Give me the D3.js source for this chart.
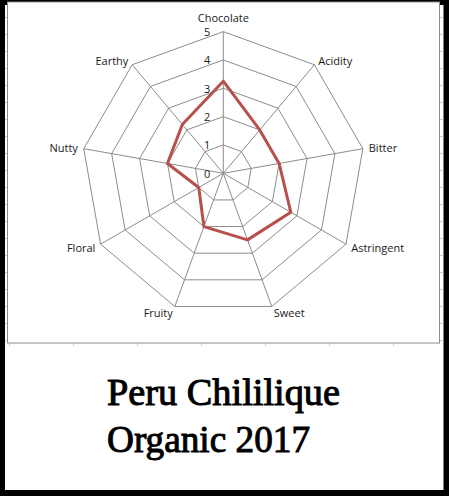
<!DOCTYPE html>
<html lang="en">
<head>
    <meta charset="UTF-8">
    <title>Peru Chililique Organic 2017</title>
    <script src="https://cdnjs.cloudflare.com/ajax/libs/d3/7.8.5/d3.min.js"></script>
    <style>
        html, body { margin: 0; padding: 0; background: #000; }
        svg { display: block; }
        .grid { fill: none; stroke: #8c8c8c; stroke-width: 1px; }
        .lbl { font-family: "Open Sans", "Liberation Sans", sans-serif; font-size: 11px; fill: #1a1a1a; }
        .title { font-family: "Liberation Serif", "DejaVu Serif", serif; font-size: 38px; font-weight: normal;
                 fill: #000; stroke: #000; stroke-width: 1px; }
    </style>
</head>
<body>
<svg id="chart" width="449" height="496"></svg>
<script>
    // flavour profile
    var categories = ["Chocolate", "Acidity", "Bitter", "Astringent", "Sweet", "Fruity", "Floral", "Nutty", "Earthy"];
    var scores = [3.25, 2, 2, 2.75, 2.5, 2, 1, 2, 2.25];
    var ticks = [0, 1, 2, 3, 4, 5];
    var titleLines = ["Peru  Chililique", "Organic 2017"];

    var svg = d3.select("#chart");

    // white sheet inside the black frame
    svg.append("rect").attr("x", 5).attr("y", 5).attr("width", 438.5).attr("height", 485).attr("fill", "#fff");

    // faint spreadsheet cell marks around the chart box
    var cells = svg.append("g").attr("stroke", "#c8c8c8").attr("stroke-width", 1);
    d3.range(0, 20).forEach(function (k) {
        var y = 340 - 17 * k + 0.5;
        cells.append("line").attr("x1", 5).attr("x2", 7).attr("y1", y).attr("y2", y);
        cells.append("line").attr("x1", 440).attr("x2", 443.5).attr("y1", y).attr("y2", y);
    });
    d3.range(0, 7).forEach(function (k) {
        var x = 9 + 64 * k + 0.5;
        cells.append("line").attr("x1", x).attr("x2", x).attr("y1", 343).attr("y2", 346);
    });

    // chart box
    svg.append("rect").attr("x", 7.5).attr("y", 2).attr("width", 432).attr("height", 341)
        .attr("fill", "#fff").attr("stroke", "#8c8c8c").attr("stroke-width", 1);

    var cx = 223.3, cy = 173.3, R = 141.7;
    var r = d3.scaleLinear().domain([0, 5]).range([0, R]);
    var angle = d3.scalePoint().domain(categories).range([0, 2 * Math.PI * (categories.length - 1) / categories.length]);

    var g = svg.append("g").attr("transform", "translate(" + cx + "," + cy + ")");

    // web rings
    var ring = d3.lineRadial().angle(function (d) { return angle(d); }).curve(d3.curveLinearClosed);
    g.selectAll(".ring")
        .data(ticks.slice(1))
        .enter().append("path")
        .attr("class", "grid")
        .attr("d", function (t) { return ring.radius(r(t))(categories); });

    // spokes
    g.selectAll(".spoke")
        .data(categories)
        .enter().append("line")
        .attr("class", "grid")
        .attr("x1", 0).attr("y1", 0)
        .attr("x2", function (d) { return r(5) * Math.sin(angle(d)); })
        .attr("y2", function (d) { return -r(5) * Math.cos(angle(d)); });

    // value labels along the top spoke
    g.selectAll(".tick")
        .data(ticks)
        .enter().append("text")
        .attr("class", "lbl")
        .attr("text-anchor", "end")
        .attr("dominant-baseline", "central")
        .attr("x", -13)
        .attr("y", function (t) { return -r(t); })
        .text(function (t) { return t; });

    // category labels
    g.selectAll(".cat")
        .data(categories)
        .enter().append("text")
        .attr("class", "lbl")
        .each(function (d) {
            var a = angle(d), s = Math.sin(a), c = Math.cos(a);
            var el = d3.select(this);
            if (Math.abs(s) < 0.1) {
                el.attr("text-anchor", "middle").attr("x", 0).attr("y", -r(5) - 10);
            } else {
                el.attr("text-anchor", s > 0 ? "start" : "end")
                    .attr("dominant-baseline", "central")
                    .attr("x", (r(5) + 6) * s)
                    .attr("y", -(r(5) + 6) * c);
            }
        })
        .text(function (d) { return d; });

    // the profile
    var profile = d3.lineRadial()
        .angle(function (d, i) { return angle(categories[i]); })
        .radius(function (d) { return r(d); })
        .curve(d3.curveLinearClosed);
    g.append("path")
        .datum(scores)
        .attr("d", profile)
        .attr("fill", "none")
        .attr("stroke", "#b5504c")
        .attr("stroke-width", 3)
        .attr("stroke-linejoin", "round");

    // title
    svg.selectAll(".title")
        .data(titleLines)
        .enter().append("text")
        .attr("class", "title")
        .attr("x", 107)
        .attr("y", function (d, i) { return 405 + i * 47; })
        .attr("textLength", function (d, i) { return i === 0 ? 233 : 203; })
        .attr("lengthAdjust", "spacingAndGlyphs")
        .text(function (d) { return d; });
</script>
</body>
</html>
